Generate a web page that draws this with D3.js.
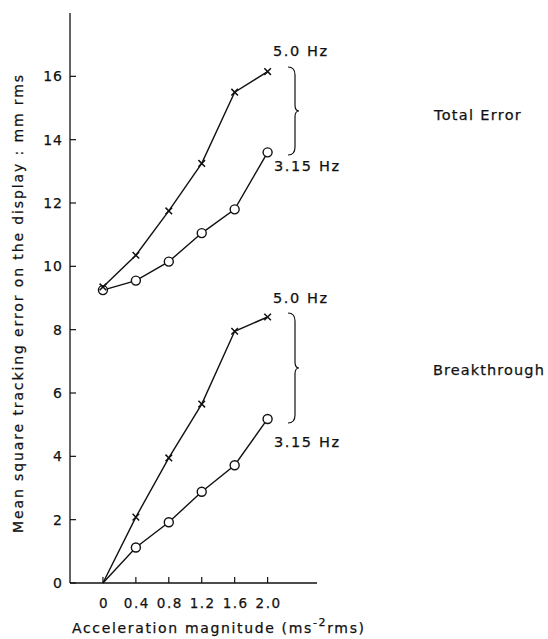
<!DOCTYPE html>
<html><head><meta charset="utf-8">
<script src="https://cdn.jsdelivr.net/npm/d3@7"></script>
<style>body{margin:0;background:#fff}svg{display:block}text{font-family:"DejaVu Sans",sans-serif;fill:#111;stroke:#111;stroke-width:0.25}</style>
</head><body><svg id="c" width="548" height="639"></svg>
<script>
const accel = [0, 0.4, 0.8, 1.2, 1.6, 2.0];
const xTickLabels = ["0","0.4","0.8","1.2","1.6","2.0"];
const yTicks = [0,2,4,6,8,10,12,14,16];
const total50 = [9.35, 10.35, 11.75, 13.25, 15.5, 16.15];
const total315 = [9.25, 9.55, 10.15, 11.05, 11.8, 13.6];
const break50 = [0, 2.08, 3.95, 5.65, 7.95, 8.4];
const break315 = [0, 1.12, 1.92, 2.88, 3.72, 5.18];

const svg = d3.select("#c");
const x = d3.scaleLinear().domain([-0.4, 2.6]).range([70, 317]);
const y = d3.scaleLinear().domain([0, 18]).range([583, 13]);

// axes
svg.append("line").attr("x1",70).attr("x2",70).attr("y1",y(18)).attr("y2",y(0)).attr("stroke","#111").attr("stroke-width",1.3);
svg.append("line").attr("x1",70).attr("x2",x(2.6)).attr("y1",y(0)).attr("y2",y(0)).attr("stroke","#111").attr("stroke-width",1.3);

yTicks.forEach(v=>{
  svg.append("line").attr("x1",70).attr("x2",76).attr("y1",y(v)).attr("y2",y(v)).attr("stroke","#111").attr("stroke-width",1.2);
  svg.append("text").attr("x",63).attr("y",y(v)).attr("dy","0.36em").attr("text-anchor","end")
    .attr("font-size",14).attr("letter-spacing",1).text(v);
});
accel.forEach((v,i)=>{
  svg.append("line").attr("x1",x(v)).attr("x2",x(v)).attr("y1",y(0)).attr("y2",y(0)-6).attr("stroke","#111").attr("stroke-width",1.2);
  svg.append("text").attr("x",x(v)+1).attr("y",603).attr("dy","0.36em").attr("text-anchor","middle")
    .attr("font-size",13.5).attr("letter-spacing",1.5).text(xTickLabels[i]);
});

// axis titles
const xt = svg.append("text").attr("x",72).attr("y",628).attr("dy","0.36em").attr("font-size",14).attr("letter-spacing",1.65);
xt.append("tspan").text("Acceleration magnitude (ms");
xt.append("tspan").attr("dy",-7).attr("font-size",11).text("-2");
xt.append("tspan").attr("dy",7).text("rms)");

svg.append("text").attr("transform","translate(18,304) rotate(-90)").attr("text-anchor","middle").attr("dy","0.36em")
  .attr("font-size",14).attr("textLength",458).attr("lengthAdjust","spacing")
  .text("Mean square tracking error on the display : mm rms");

const line = d3.line().x((d,i)=>x(accel[i])).y(d=>y(d));
function series(vals, marker){
  svg.append("path").datum(vals).attr("d",line).attr("fill","none").attr("stroke","#111").attr("stroke-width",1.4);
  vals.forEach((v,i)=>{
    const cx=x(accel[i]), cy=y(v);
    if(v===0) return;
    if(marker==="o"){
      svg.append("circle").attr("cx",cx).attr("cy",cy).attr("r",4.5).attr("fill","#fff").attr("stroke","#111").attr("stroke-width",1.4);
    } else {
      const s=3.3;
      svg.append("path").attr("d",`M${cx-s},${cy-s}L${cx+s},${cy+s}M${cx-s},${cy+s}L${cx+s},${cy-s}`)
        .attr("stroke","#111").attr("stroke-width",1.5).attr("fill","none");
    }
  });
}
series(total315,"o");
series(total50,"x");
series(break315,"o");
series(break50,"x");

function brace(x0, y0, y1){
  const m=(y0+y1)/2, w=7, p=4;
  const d=`M${x0},${y0} Q${x0+w},${y0} ${x0+w},${y0+8} L${x0+w},${m-6} Q${x0+w},${m} ${x0+w+p},${m} Q${x0+w},${m} ${x0+w},${m+6} L${x0+w},${y1-8} Q${x0+w},${y1} ${x0},${y1}`;
  svg.append("path").attr("d",d).attr("fill","none").attr("stroke","#111").attr("stroke-width",1.2);
}
brace(288, 67, 155);
brace(288, 313, 423);

const lab=(t,xx,yy,ls)=>svg.append("text").attr("x",xx).attr("y",yy).attr("dy","0.36em").attr("font-size",14.5).attr("letter-spacing",ls).text(t);
lab("5.0 Hz",273,51,1.6);
lab("3.15 Hz",274,166,1.6);
lab("5.0 Hz",273,298,1.6);
lab("3.15 Hz",274,442,1.6);
lab("Total Error",434,115,1.3);
lab("Breakthrough",433,370,1.1);
</script></body></html>
